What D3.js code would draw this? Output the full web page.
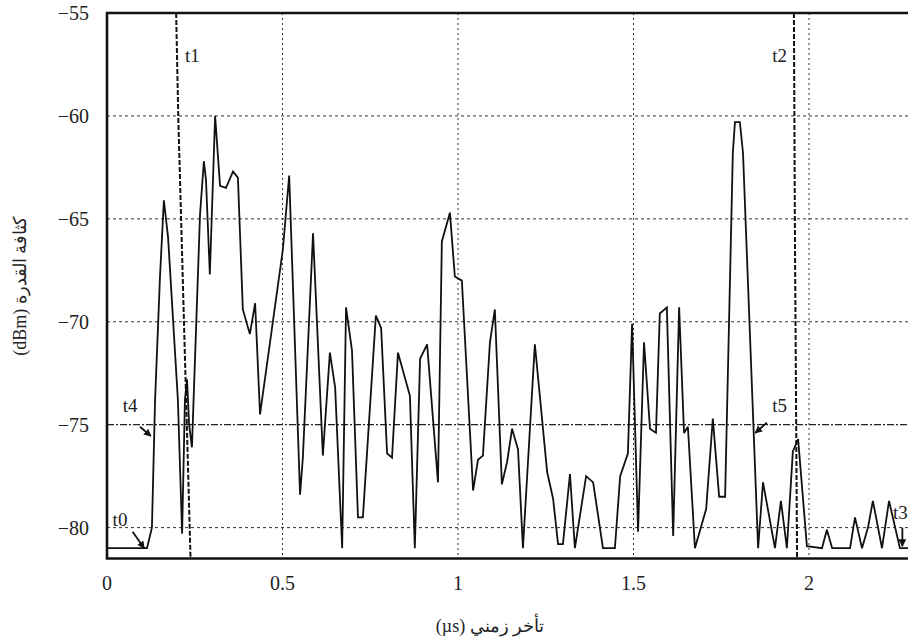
<!DOCTYPE html>
<html>
<head>
<meta charset="utf-8">
<script src="https://cdn.jsdelivr.net/npm/d3@7"></script>
<style>
  html, body { margin: 0; padding: 0; background: #fff; }
  svg { display: block; }
</style>
</head>
<body>
<svg id="chart" width="908" height="643"></svg>
<script>
// ---- data ----
const delay = [0, 0.114, 0.128, 0.137, 0.151, 0.162, 0.174, 0.202, 0.214, 0.222, 0.228, 0.234, 0.242, 0.265, 0.276, 0.282, 0.293, 0.308, 0.313, 0.322, 0.339, 0.359, 0.373, 0.387, 0.407, 0.422, 0.436, 0.501, 0.519, 0.550, 0.558, 0.587, 0.615, 0.635, 0.650, 0.670, 0.681, 0.698, 0.715, 0.729, 0.766, 0.781, 0.798, 0.812, 0.829, 0.863, 0.877, 0.892, 0.912, 0.943, 0.954, 0.977, 0.991, 1.011, 1.043, 1.057, 1.071, 1.091, 1.105, 1.125, 1.140, 1.154, 1.171, 1.185, 1.219, 1.254, 1.271, 1.285, 1.299, 1.319, 1.333, 1.365, 1.385, 1.413, 1.447, 1.462, 1.484, 1.496, 1.513, 1.530, 1.547, 1.564, 1.575, 1.595, 1.613, 1.630, 1.644, 1.655, 1.675, 1.707, 1.726, 1.744, 1.761, 1.783, 1.789, 1.803, 1.812, 1.855, 1.869, 1.903, 1.920, 1.937, 1.954, 1.969, 1.994, 2.037, 2.051, 2.066, 2.117, 2.131, 2.151, 2.168, 2.182, 2.208, 2.228, 2.259, 2.30];
const power = [-81, -81, -80, -73.8, -67.8, -64.1, -65.9, -73.8, -80.3, -73.8, -72.8, -75, -76.1, -64.8, -62.2, -63.1, -67.7, -60, -61.2, -63.4, -63.5, -62.7, -63.0, -69.4, -70.6, -69.1, -74.5, -66.5, -62.9, -78.4, -76.6, -65.7, -76.5, -71.5, -73.2, -81, -69.3, -71.4, -79.5, -79.5, -69.7, -70.3, -76.4, -76.6, -71.5, -73.6, -81, -71.8, -71.1, -77.8, -66.1, -64.7, -67.8, -68.0, -78.2, -76.7, -76.5, -71.0, -69.4, -77.9, -76.8, -75.2, -76.2, -81, -71.1, -77.3, -78.6, -80.8, -80.8, -77.4, -81, -77.5, -77.8, -81, -81, -77.5, -76.4, -70.1, -80.2, -71.0, -75.2, -75.4, -69.6, -69.3, -80.4, -69.3, -75.4, -75.1, -81, -79.1, -74.7, -78.5, -78.5, -61.8, -60.3, -60.3, -61.8, -81, -77.8, -81, -78.7, -81, -76.3, -75.7, -80.9, -81, -80.1, -81, -81, -79.5, -81, -80, -78.7, -81, -78.7, -81, -81];

const xTicks = [0, 0.5, 1, 1.5, 2];
const xTickLabels = ["0", "0.5", "1", "1.5", "2"];
const yTicks = [-55, -60, -65, -70, -75, -80];
const yTickLabels = ["\u221255", "\u221260", "\u221265", "\u221270", "\u221275", "\u221280"];
const xGrid = [0.5, 1, 1.5, 2];
const yGrid = [-60, -65, -70, -80];
const threshold = -75;

// vertical markers t1, t2 (slightly slanted in the scan)
const t1Delay = [0.197, 0.203, 0.238];
const t1Power = [-55, -60, -81.5];
const t2Delay = [1.957, 1.960, 1.966];
const t2Power = [-55, -66, -81.5];

// annotations: label + arrow (in data units)
const annLabels = ["t0", "t4", "t5", "t3", "t1", "t2"];
const annLabelX = [0.016, 0.045, 1.895, 2.239, 0.222, 1.895];
const annLabelY = [-79.9, -74.4, -74.4, -79.6, -57.4, -57.4];
const annArrowX1 = [0.073, 0.094, 1.880, 2.266, null, null];
const annArrowY1 = [-80.2, -75.1, -74.9, -80.0, null, null];
const annArrowX2 = [0.106, 0.125, 1.847, 2.266, null, null];
const annArrowY2 = [-81.0, -75.55, -75.4, -80.9, null, null];

const xTitle = "تأخر زمني (µs)";
const yTitle = "كثافة القدرة (dBm)";

// ---- layout ----
const W = 908, H = 643;
const plotLeft = 107, plotTop = 13, plotBottom = 558.5;
const pxPerUnit = 351;
const svg = d3.select("#chart");

const x = d3.scaleLinear().domain([0, 2.5]).range([plotLeft, plotLeft + 2.5 * pxPerUnit]);
const y = d3.scaleLinear().domain([-81.5, -55]).range([plotBottom, plotTop]);

const font = "Liberation Serif, Times New Roman, serif";

const defs = svg.append("defs");
defs.append("clipPath").attr("id", "plotclip")
  .append("rect").attr("x", plotLeft).attr("y", plotTop).attr("width", W - plotLeft).attr("height", plotBottom - plotTop);

defs.append("marker")
  .attr("id", "arrow").attr("viewBox", "0 0 10 10").attr("refX", 9).attr("refY", 5)
  .attr("markerWidth", 4.2).attr("markerHeight", 4.2).attr("orient", "auto-start-reverse")
  .append("path").attr("d", "M0,0 L10,5 L0,10 z").attr("fill", "#111");

const plot = svg.append("g").attr("clip-path", "url(#plotclip)");

// grid
plot.selectAll(".vgrid").data(xGrid).enter().append("line")
  .attr("x1", d => x(d)).attr("x2", d => x(d)).attr("y1", plotTop).attr("y2", plotBottom)
  .attr("stroke", "#333").attr("stroke-width", 1).attr("stroke-dasharray", "2,3");
plot.selectAll(".hgrid").data(yGrid).enter().append("line")
  .attr("x1", plotLeft).attr("x2", W).attr("y1", d => y(d)).attr("y2", d => y(d))
  .attr("stroke", "#333").attr("stroke-width", 1).attr("stroke-dasharray", "3,3");

// threshold dash-dot
plot.append("line")
  .attr("x1", plotLeft).attr("x2", W).attr("y1", y(threshold)).attr("y2", y(threshold))
  .attr("stroke", "#222").attr("stroke-width", 1.3).attr("stroke-dasharray", "7,2,2,2");

// t1 / t2 dashed markers
const mline = d3.line().x(d => x(d[0])).y(d => y(d[1]));
plot.append("path").datum(t1Delay.map((d, i) => [d, t1Power[i]]))
  .attr("d", mline).attr("fill", "none").attr("stroke", "#111").attr("stroke-width", 2)
  .attr("stroke-dasharray", "5,2");
plot.append("path").datum(t2Delay.map((d, i) => [d, t2Power[i]]))
  .attr("d", mline).attr("fill", "none").attr("stroke", "#111").attr("stroke-width", 2)
  .attr("stroke-dasharray", "5,2");

// series
const series = delay.map((d, i) => [d, power[i]]);
plot.append("path").datum(series)
  .attr("d", mline).attr("fill", "none").attr("stroke", "#111").attr("stroke-width", 1.8)
  .attr("stroke-linejoin", "miter").attr("stroke-miterlimit", 3);

// frame (left, top, bottom)
svg.append("path")
  .attr("d", `M${W},${plotTop} L${plotLeft},${plotTop} L${plotLeft},${plotBottom} L${W},${plotBottom}`)
  .attr("fill", "none").attr("stroke", "#111").attr("stroke-width", 2.6);

// annotations
annLabels.forEach((lab, i) => {
  svg.append("text").attr("x", x(annLabelX[i])).attr("y", y(annLabelY[i]))
    .attr("font-family", font).attr("font-size", 19).attr("fill", "#222").text(lab);
  if (annArrowX1[i] !== null) {
    svg.append("line")
      .attr("x1", x(annArrowX1[i])).attr("y1", y(annArrowY1[i]))
      .attr("x2", x(annArrowX2[i])).attr("y2", y(annArrowY2[i]))
      .attr("stroke", "#111").attr("stroke-width", 1.8).attr("marker-end", "url(#arrow)");
  }
});

// tick labels
svg.selectAll(".ylab").data(yTicks).enter().append("text")
  .attr("x", 89).attr("y", d => y(d)).attr("dy", "0.35em")
  .attr("text-anchor", "end").attr("font-family", font).attr("font-size", 20).attr("fill", "#222")
  .text((d, i) => yTickLabels[i]);
svg.selectAll(".xlab").data(xTicks).enter().append("text")
  .attr("x", d => x(d)).attr("y", 590)
  .attr("text-anchor", "middle").attr("font-family", font).attr("font-size", 20).attr("fill", "#222")
  .text((d, i) => xTickLabels[i]);

// axis titles
svg.append("text").attr("x", 490).attr("y", 632)
  .attr("text-anchor", "middle").attr("direction", "rtl")
  .attr("font-family", font).attr("font-size", 18).attr("fill", "#222").text(xTitle);
svg.append("text")
  .attr("transform", `translate(26,${(plotTop + plotBottom) / 2}) rotate(-90)`)
  .attr("text-anchor", "middle").attr("direction", "rtl")
  .attr("font-family", font).attr("font-size", 18).attr("fill", "#222").text(yTitle);
</script>
</body>
</html>
